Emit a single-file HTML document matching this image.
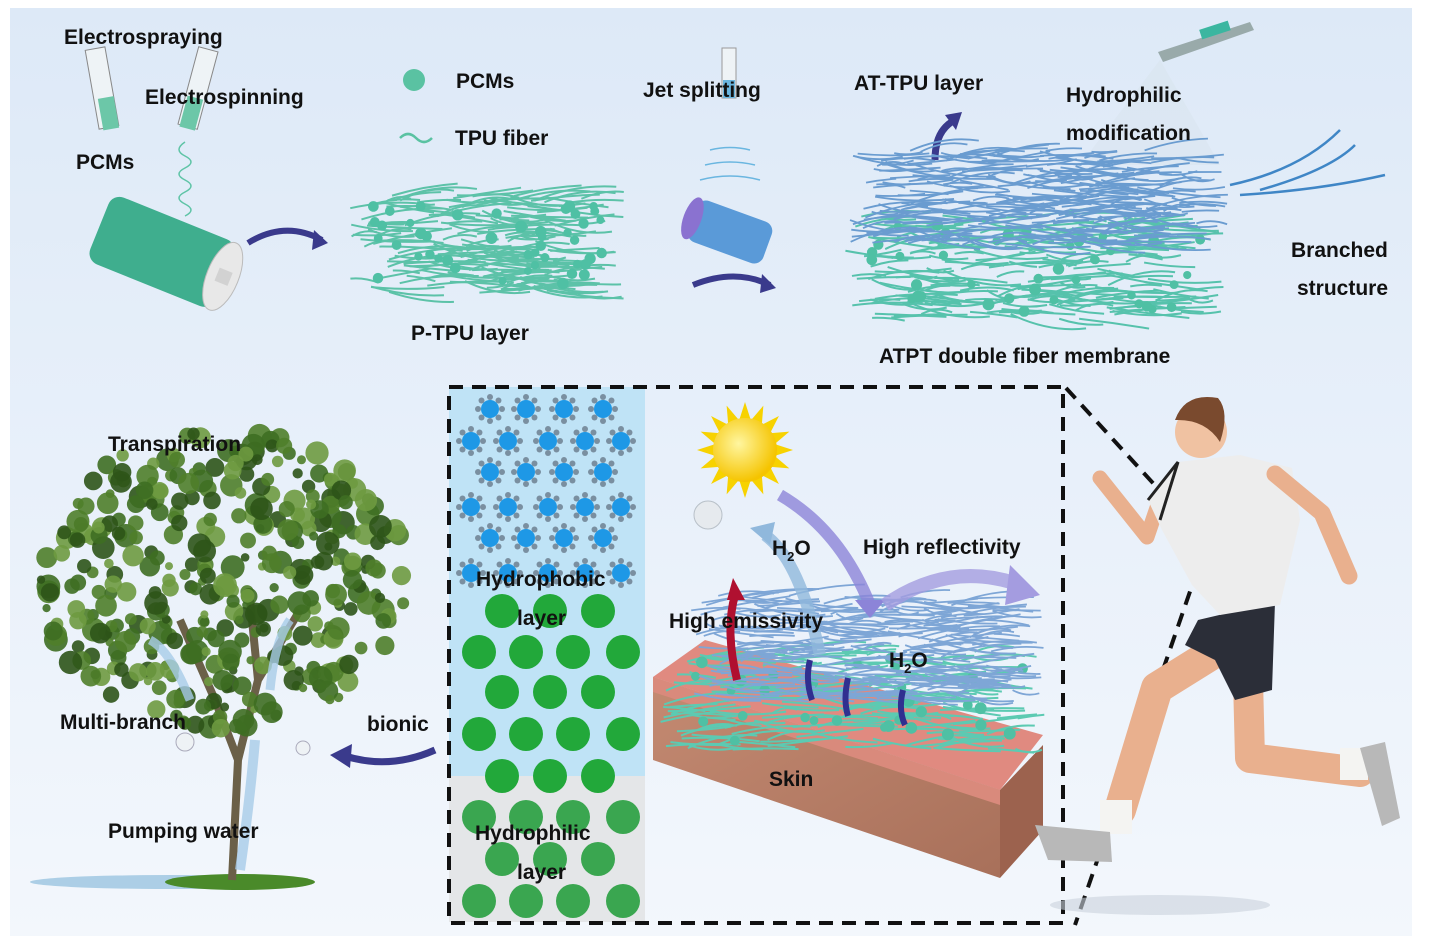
<!DOCTYPE html>
<html><head><meta charset="utf-8">
<style>
html,body{margin:0;padding:0;background:#fff;}
svg{display:block;}
text{font-family:"Liberation Sans",Arial,sans-serif;font-weight:bold;fill:#111;}
</style></head>
<body>
<svg id="s" width="1446" height="943" viewBox="0 0 1446 943" xmlns="http://www.w3.org/2000/svg">
<defs>
<linearGradient id="bg" x1="0" y1="0" x2="0" y2="1">
<stop offset="0" stop-color="#dde9f7"/><stop offset="0.5" stop-color="#e8f0fa"/><stop offset="1" stop-color="#f3f7fc"/>
</linearGradient>
<radialGradient id="sun" cx="0.4" cy="0.4" r="0.6"><stop offset="0" stop-color="#fff6a0"/><stop offset="1" stop-color="#f5c400"/></radialGradient>
<linearGradient id="skinF" x1="0" y1="0" x2="1" y2="1"><stop offset="0" stop-color="#c48a72"/><stop offset="1" stop-color="#a8705a"/></linearGradient>
</defs>
<rect x="10" y="8" width="1402" height="928" fill="url(#bg)"/>

<g>
<rect x="92" y="48" width="20" height="80" fill="#eef3f6" stroke="#888" transform="rotate(-10 102 88)"/>
<rect x="96" y="98" width="16" height="32" fill="#6cc7a8" transform="rotate(-10 102 88)"/>
<rect x="188" y="48" width="20" height="80" fill="#eef3f6" stroke="#888" transform="rotate(15 198 88)"/>
<rect x="190" y="98" width="16" height="32" fill="#6cc7a8" transform="rotate(15 198 88)"/>
<path d="M185 142 q-12 8 0 14 q12 6 0 12 q-12 6 0 12 q12 6 0 12 q-12 6 0 12 q12 6 0 12" fill="none" stroke="#5ec4a6" stroke-width="1.5"/>
<g transform="rotate(22 160 250)">
<rect x="95" y="215" width="135" height="72" rx="12" fill="#3fae8e"/>
<ellipse cx="228" cy="251" rx="16" ry="36" fill="#e8e8e8" stroke="#bbb"/>
<rect x="222" y="244" width="14" height="14" fill="#d2d2d2"/>
</g>
<path d="M248 243 Q285 220 322 240" fill="none" stroke="#3a3a8c" stroke-width="6"/>
<polygon points="314,230 328,243 312,250" fill="#3a3a8c"/>
</g>

<rect x="722" y="48" width="14" height="50" fill="#eef3f6" stroke="#999"/>
<rect x="723" y="80" width="12" height="18" fill="#6ab6e0"/>
<path d="M700 180 q30 -8 60 0 M705 165 q25 -6 50 0 M710 150 q20 -5 40 0" fill="none" stroke="#6ab6e0" stroke-width="1.5"/>
<g transform="rotate(20 730 232)">
<rect x="690" y="210" width="80" height="44" rx="10" fill="#5a9ad8"/>
<ellipse cx="690" cy="232" rx="9" ry="22" fill="#8a72d0"/>
</g>
<path d="M693 285 Q735 268 770 285" fill="none" stroke="#3a3a8c" stroke-width="6"/>
<polygon points="762,274 776,288 760,293" fill="#3a3a8c"/>
<path d="M1158 52 L1250 22 L1254 30 L1163 62 Z" fill="#9aa"/>
<rect x="1200" y="25" width="30" height="10" fill="#3bb6a0" transform="rotate(-18 1215 30)"/>
<polygon points="1160,60 1080,165 1220,165" fill="#d8e3ee" opacity="0.5"/>
<path d="M935 160 Q935 130 955 120" fill="none" stroke="#3a3a8c" stroke-width="7"/>
<polygon points="945,115 962,112 956,130" fill="#3a3a8c"/>
<path d="M1230 185 Q1300 170 1340 130 M1240 195 Q1320 190 1385 175 M1260 190 Q1330 170 1355 145" fill="none" stroke="#3f86c6" stroke-width="2.5"/>

<g id="fibers"></g>

<text x="64" y="44" font-size="21">Electrospraying</text>
<text x="145" y="104" font-size="21">Electrospinning</text>
<text x="76" y="169" font-size="21">PCMs</text>
<circle cx="414" cy="80" r="11" fill="#5ac2a2"/>
<text x="456" y="88" font-size="21">PCMs</text>
<path d="M400 138 q8 -8 16 0 q8 8 16 0" fill="none" stroke="#5ac2a2" stroke-width="2.5"/>
<text x="455" y="145" font-size="21">TPU fiber</text>
<text x="411" y="340" font-size="21">P-TPU layer</text>
<text x="643" y="97" font-size="21">Jet splitting</text>
<text x="854" y="90" font-size="21">AT-TPU layer</text>
<text x="1066" y="102" font-size="21">Hydrophilic</text>
<text x="1066" y="140" font-size="21">modification</text>
<text x="1291" y="257" font-size="21">Branched</text>
<text x="1297" y="295" font-size="21">structure</text>
<text x="879" y="363" font-size="21">ATPT double fiber membrane</text>

<rect x="449" y="387" width="196" height="389" fill="#bfe3f6"/>
<rect x="449" y="776" width="196" height="146" fill="#e4e6e8"/>
<g id="dots"></g>
<rect x="449" y="387" width="614" height="536" fill="none" stroke="#111" stroke-width="4" stroke-dasharray="14,9"/>
<path d="M1066 388 L1205 540 M1205 548 L1075 925" stroke="#111" stroke-width="4" stroke-dasharray="14,9" fill="none"/>

<polygon points="653,677 705,640 1043,735 1000,790" fill="#e08a80"/>
<polygon points="653,677 1000,790 1000,878 653,760" fill="url(#skinF)"/>
<polygon points="653,677 1000,790 1000,805 653,692" fill="#d98a7c"/>
<polygon points="1000,790 1043,745 1043,830 1000,878" fill="#9c624e"/>
<g id="fib2"></g>
<text x="769" y="786" font-size="21">Skin</text>
<g id="sunrays"></g>
<circle cx="745" cy="450" r="32" fill="url(#sun)"/>
<circle cx="708" cy="515" r="14" fill="#e6eaee" stroke="#b8c0c8"/>
<path d="M780 495 Q840 530 870 605" fill="none" stroke="#8c84d8" stroke-width="12" opacity="0.8"/>
<polygon points="855,600 885,600 870,618" fill="#8c84d8"/>
<path d="M885 605 Q950 560 1020 585" fill="none" stroke="#a49ce0" stroke-width="14" opacity="0.8"/>
<polygon points="1010,565 1040,595 1005,605" fill="#a49ce0"/>
<path d="M820 655 Q800 560 765 535" fill="none" stroke="#90b8dc" stroke-width="12" opacity="0.8"/>
<polygon points="750,528 775,522 770,545" fill="#90b8dc"/>
<path d="M737 680 Q725 630 735 595" fill="none" stroke="#b01030" stroke-width="8"/>
<polygon points="727,600 745,600 733,578" fill="#b01030"/>
<path d="M812 700 Q805 680 810 660 M848 716 Q843 700 848 678 M905 725 Q898 710 903 690" fill="none" stroke="#303090" stroke-width="6"/>
<text x="772" y="555" font-size="21">H<tspan font-size="13" dy="6">2</tspan><tspan dy="-6">O</tspan></text>
<text x="863" y="554" font-size="21">High reflectivity</text>
<text x="669" y="628" font-size="21">High emissivity</text>
<text x="889" y="667" font-size="21">H<tspan font-size="13" dy="6">2</tspan><tspan dy="-6">O</tspan></text>
<text x="476" y="586" font-size="21">Hydrophobic</text>
<text x="517" y="625" font-size="21">layer</text>
<text x="475" y="840" font-size="21">Hydrophilic</text>
<text x="517" y="879" font-size="21">layer</text>

<ellipse cx="170" cy="882" rx="140" ry="7" fill="#9ac4e0" opacity="0.8"/>
<ellipse cx="240" cy="882" rx="75" ry="8" fill="#4a8a2a"/>
<path d="M232 880 L238 760 L215 700 M238 760 L258 680 L250 600 M215 700 L180 620 M258 680 L300 610" fill="none" stroke="#6b6048" stroke-width="8"/>
<g id="leaves"></g>
<path d="M240 870 Q250 800 255 740" fill="none" stroke="#a8cce8" stroke-width="10" opacity="0.8"/>
<path d="M190 700 Q170 650 150 640" fill="none" stroke="#a8cce8" stroke-width="9" opacity="0.8"/>
<path d="M270 690 Q275 640 290 620" fill="none" stroke="#a8cce8" stroke-width="9" opacity="0.8"/>
<circle cx="185" cy="742" r="9" fill="#eef2f5" stroke="#aab"/>
<circle cx="303" cy="748" r="7" fill="#eef2f5" stroke="#aab"/>
<text x="108" y="451" font-size="21">Transpiration</text>
<text x="60" y="729" font-size="21">Multi-branch</text>
<text x="108" y="838" font-size="21">Pumping water</text>
<text x="367" y="731" font-size="21">bionic</text>
<path d="M435 750 Q390 770 345 756" fill="none" stroke="#3a3a8c" stroke-width="7"/>
<polygon points="352,744 330,755 350,768" fill="#3a3a8c"/>

<g>
<ellipse cx="1160" cy="905" rx="110" ry="10" fill="#c9d2dc" opacity="0.6"/>
<!-- back leg -->
<path d="M1248 680 L1250 758 L1360 772" fill="none" stroke="#e9b08e" stroke-width="30" stroke-linejoin="round" stroke-linecap="round"/>
<rect x="1340" y="748" width="28" height="32" fill="#f4f4f2"/>
<path d="M1360 748 L1385 742 L1400 818 L1382 826 Z" fill="#b8b8b8"/>
<!-- front leg -->
<path d="M1210 655 L1157 688 L1120 810" fill="none" stroke="#e9b08e" stroke-width="32" stroke-linecap="round" stroke-linejoin="round"/>
<rect x="1100" y="800" width="32" height="34" fill="#f4f4f2"/>
<path d="M1035 825 L1110 832 L1112 862 L1048 860 Z" fill="#b8b8b8"/>
<path d="M1198 620 L1275 602 L1272 690 L1235 700 L1215 660 L1185 645 Z" fill="#2b2e38"/>
<path d="M1161 496 L1147 537 L1100 478" fill="none" stroke="#e9b08e" stroke-width="15" stroke-linecap="round" stroke-linejoin="round"/>
<path d="M1148 500 L1178 462 L1240 455 L1292 468 L1300 520 L1280 605 L1220 615 L1192 585 L1162 530 Z" fill="#ededed"/>
<path d="M1148 500 L1178 462 L1160 520" fill="none" stroke="#222" stroke-width="3"/>
<path d="M1275 474 L1322 513 L1349 576" fill="none" stroke="#e9b08e" stroke-width="17" stroke-linecap="round" stroke-linejoin="round"/>
<circle cx="1201" cy="432" r="26" fill="#f0c2a2"/>
<path d="M1175 420 Q1185 392 1218 398 Q1230 412 1220 442 Q1206 420 1178 420 Z" fill="#7a4a2e"/>
</g>
</svg>
<script>
(function(){
var seed=7;function r(){seed=(seed*16807)%2147483647;return seed/2147483647;}
var NS="http://www.w3.org/2000/svg";
function el(p,t,a){var e=document.createElementNS(NS,t);for(var k in a)e.setAttribute(k,a[k]);p.appendChild(e);return e;}
function mat(g,x0,y0,x1,y1,n,col,sw,beads){
 for(var i=0;i<n;i++){var l=25+r()*60;var x=x0+r()*(x1-x0-l),y=y0+r()*(y1-y0),a=(r()-.5)*0.4;
 el(g,"path",{d:"M"+x+" "+y+" q"+(l/2)+" "+(a*l-6+r()*12)+" "+l+" "+(a*l),fill:"none",stroke:col,"stroke-width":sw});}
 for(var j=0;j<beads;j++){el(g,"circle",{cx:x0+20+r()*(x1-x0-40),cy:y0+8+r()*(y1-y0-16),r:4+r()*2,fill:"#4fc0a4"});}
}
var f=document.getElementById("fibers");
mat(f,350,195,625,295,180,"#5cc2a8",2,45);
mat(f,845,215,1225,320,200,"#56c2ac",2,40);
mat(f,850,150,1230,245,280,"#6a9cd0",1.8,0);
var f2=document.getElementById("fib2");
mat(f2,660,650,1045,750,170,"#5ccab2",2,30);
mat(f2,690,595,1045,700,280,"#7ea6d6",1.8,0);
var d=document.getElementById("dots");
var rows=[[409,[490,526,564,603]],[441,[471,508,548,585,621]],[472,[490,526,564,603]],[507,[471,508,548,585,621]],[538,[490,526,564,603]],[573,[471,508,548,585,621]]];
rows.forEach(function(rw){rw[1].forEach(function(x){
 for(var k=0;k<8;k++){var an=k*Math.PI/4;el(d,"circle",{cx:x+Math.cos(an)*12,cy:rw[0]+Math.sin(an)*12,r:3,fill:"#7a8fa0"});}
 el(d,"circle",{cx:x,cy:rw[0],r:9,fill:"#1e98e6"});});});
var g4=[479,526,573,623],g3=[502,550,598];
[611,652,692,734,776,817,859,901].forEach(function(y,i){(i%2?g4:g3).forEach(function(x){el(d,"circle",{cx:x,cy:y,r:17,fill:y>790?"#3aa650":"#22a83a"});});});
var s=document.getElementById("sunrays");
for(var k=0;k<16;k++){var an=k*Math.PI/8;el(s,"polygon",{points:(745+Math.cos(an)*48)+","+(450+Math.sin(an)*48)+" "+(745+Math.cos(an+0.2)*30)+","+(450+Math.sin(an+0.2)*30)+" "+(745+Math.cos(an-0.2)*30)+","+(450+Math.sin(an-0.2)*30),fill:"#f7d200"});}
var lv=document.getElementById("leaves");
for(var i=0;i<500;i++){var x=40+r()*370,y=430+r()*310;var dx=(x-225)/185,dy=(y-580)/150;if(dx*dx+dy*dy>1)continue;
 el(lv,"circle",{cx:x,cy:y,r:4+r()*8,fill:["#3e6e22","#4f7e2a","#2d5418","#6e9a40"][Math.floor(r()*4)],opacity:0.9});}
})();
</script>
</body></html>
